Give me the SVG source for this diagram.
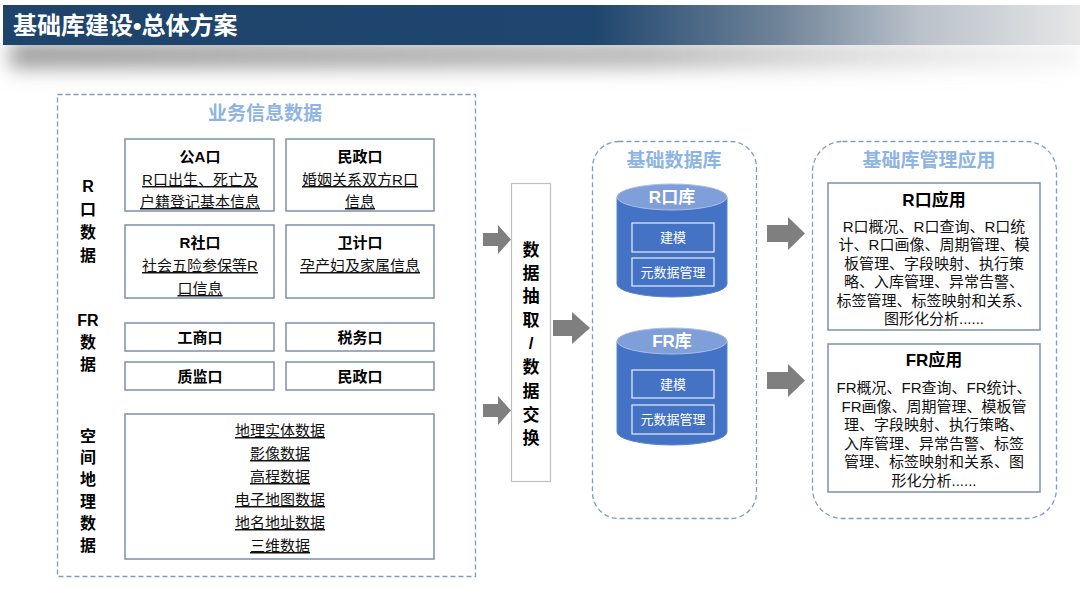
<svg xmlns="http://www.w3.org/2000/svg" width="1080" height="595" viewBox="0 0 1080 595">
<defs>
<linearGradient id="barGrad" x1="0" y1="0" x2="1080" y2="0" gradientUnits="userSpaceOnUse">
<stop offset="0" stop-color="#1E446C"/>
<stop offset="0.55" stop-color="#1F466E"/>
<stop offset="0.72" stop-color="#6F8398"/>
<stop offset="0.85" stop-color="#B9C1CA"/>
<stop offset="1" stop-color="#E6E6E6"/>
</linearGradient>
<linearGradient id="shGrad" x1="0" y1="0" x2="1080" y2="0" gradientUnits="userSpaceOnUse">
<stop offset="0" stop-color="#999"/>
<stop offset="0.6" stop-color="#b5b5b5"/>
<stop offset="1" stop-color="#dedede" stop-opacity="0.3"/>
</linearGradient>
<filter id="blur" x="-10%" y="-100%" width="120%" height="300%"><feGaussianBlur stdDeviation="10"/></filter>
<style>
text{font-family:"Liberation Sans","Noto Sans CJK SC",sans-serif;text-anchor:middle}
.dash{fill:none;stroke:#7F9CC0;stroke-width:1.3;stroke-dasharray:5 3}
.box{fill:#fff;stroke:#8497B0;stroke-width:1.6}
.hd{font-size:15px;font-weight:bold;fill:#000}
.ul{font-size:15px;fill:#111;text-decoration:underline}
.side{font-size:16px;font-weight:bold;fill:#000}
.sec{font-size:19px;font-weight:bold;fill:#8DB4E2}
.arr{fill:#7F7F7F}
.cyl{fill:#4472C4;stroke:#5E86CC;stroke-width:1}
.cyltop{fill:#809FD8;stroke:#A9BFE6;stroke-width:1}
.cylt{font-size:17px;font-weight:bold;fill:#fff}
.ib{fill:none;stroke:#E8EEF8;stroke-width:1.2}
.it{font-size:13px;fill:#fff}
.app{font-size:15px;fill:#111}
.apph{font-size:17px;font-weight:bold;fill:#000}
.vt{font-size:17px;font-weight:bold;fill:#000}
</style>
</defs>
<rect width="1080" height="595" fill="#fff"/>
<!-- title bar -->
<g id="title">
<rect x="10" y="42" width="1070" height="26" fill="url(#shGrad)" filter="url(#blur)"/>
<rect x="3" y="5" width="1077" height="40" fill="url(#barGrad)"/>
<text x="13" y="34" style="font-size:24px;font-weight:bold;fill:#fff;text-anchor:start">基础库建设•总体方案</text>
</g>
<!-- left section -->
<g id="business">
<rect class="dash" x="57.5" y="94.5" width="418" height="482"/>
<text class="sec" x="265" y="120">业务信息数据</text>
<g class="side">
<text x="88" y="192">R</text><text x="88" y="215">口</text><text x="88" y="238">数</text><text x="88" y="261">据</text>
<text x="88" y="326">FR</text><text x="88" y="348">数</text><text x="88" y="370">据</text>
<text x="88" y="442">空</text><text x="88" y="463">间</text><text x="88" y="485">地</text><text x="88" y="507">理</text><text x="88" y="529">数</text><text x="88" y="551">据</text>
</g>
</g>
<g id="gongan"><rect class="box" x="125" y="139" width="149" height="72"/><text class="hd" x="200" y="162">公A口</text><text class="ul" x="200" y="185">R口出生、死亡及</text><text class="ul" x="200" y="207">户籍登记基本信息</text></g>
<g id="minzheng1"><rect class="box" x="286" y="139" width="148" height="72"/><text class="hd" x="360" y="162">民政口</text><text class="ul" x="360" y="185">婚姻关系双方R口</text><text class="ul" x="360" y="207">信息</text></g>
<g id="rshe"><rect class="box" x="125" y="225" width="149" height="73"/><text class="hd" x="200" y="248">R社口</text><text class="ul" x="200" y="271">社会五险参保等R</text><text class="ul" x="200" y="294">口信息</text></g>
<g id="weiji"><rect class="box" x="286" y="225" width="148" height="73"/><text class="hd" x="360" y="248">卫计口</text><text class="ul" x="360" y="271">孕产妇及家属信息</text></g>
<g id="gongshang"><rect class="box" x="125" y="323" width="149" height="28"/><text class="hd" x="200" y="343">工商口</text></g>
<g id="shuiwu"><rect class="box" x="286" y="323" width="148" height="28"/><text class="hd" x="360" y="343">税务口</text></g>
<g id="zhijian"><rect class="box" x="125" y="362" width="149" height="28"/><text class="hd" x="200" y="382">质监口</text></g>
<g id="minzheng2"><rect class="box" x="286" y="362" width="148" height="28"/><text class="hd" x="360" y="382">民政口</text></g>
<g id="spatial"><rect class="box" x="125" y="414" width="309" height="145"/>
<text class="ul" x="280" y="436">地理实体数据</text><text class="ul" x="280" y="459">影像数据</text><text class="ul" x="280" y="482">高程数据</text><text class="ul" x="280" y="505">电子地图数据</text><text class="ul" x="280" y="528">地名地址数据</text><text class="ul" x="280" y="551">三维数据</text>
</g>
<!-- exchange -->
<g id="exchange"><rect x="511.5" y="183.5" width="39" height="298" fill="#fff" stroke="#BFBFBF" stroke-width="1.2"/>
<g class="vt"><text x="531" y="256">数</text><text x="531" y="279">据</text><text x="531" y="302">抽</text><text x="531" y="326">取</text><text x="531" y="349">/</text><text x="531" y="373">数</text><text x="531" y="397">据</text><text x="531" y="421">交</text><text x="531" y="444">换</text></g>
</g>
<!-- base db -->
<g id="basedb"><rect class="dash" x="592.5" y="141.5" width="164" height="377" rx="26"/><text class="sec" x="674" y="167">基础数据库</text></g>
<g id="rdb">
<path class="cyl" d="M617,197 v87 a55,13 0 0 0 110,0 v-87 z"/>
<ellipse class="cyltop" cx="672" cy="197" rx="55" ry="13"/>
<text class="cylt" x="672" y="203">R口库</text>
<rect class="ib" x="632" y="223" width="82" height="29"/><text class="it" x="673" y="242">建模</text>
<rect class="ib" x="632" y="258" width="82" height="28"/><text class="it" x="673" y="277">元数据管理</text>
</g>
<g id="frdb">
<path class="cyl" d="M617,341 v91 a55,13 0 0 0 110,0 v-91 z"/>
<ellipse class="cyltop" cx="672" cy="341" rx="55" ry="13"/>
<text class="cylt" x="672" y="347">FR库</text>
<rect class="ib" x="632" y="370" width="82" height="28"/><text class="it" x="673" y="389">建模</text>
<rect class="ib" x="632" y="405" width="82" height="29"/><text class="it" x="673" y="424">元数据管理</text>
</g>
<!-- apps -->
<g id="apps"><rect class="dash" x="812.5" y="141.5" width="244" height="377" rx="30"/><text class="sec" x="929" y="167">基础库管理应用</text></g>
<g id="rapp"><rect class="box" x="828" y="183" width="212" height="147"/>
<text class="apph" x="934" y="206">R口应用</text>
<text class="app" x="934" y="232">R口概况、R口查询、R口统</text>
<text class="app" x="934" y="250">计、R口画像、周期管理、模</text>
<text class="app" x="934" y="269">板管理、字段映射、执行策</text>
<text class="app" x="934" y="287">略、入库管理、异常告警、</text>
<text class="app" x="934" y="306">标签管理、标签映射和关系、</text>
<text class="app" x="934" y="324">图形化分析......</text>
</g>
<g id="frapp"><rect class="box" x="828" y="344" width="212" height="148"/>
<text class="apph" x="934" y="366">FR应用</text>
<text class="app" x="934" y="393">FR概况、FR查询、FR统计、</text>
<text class="app" x="934" y="412">FR画像、周期管理、模板管</text>
<text class="app" x="934" y="430">理、字段映射、执行策略、</text>
<text class="app" x="934" y="449">入库管理、异常告警、标签</text>
<text class="app" x="934" y="467">管理、标签映射和关系、图</text>
<text class="app" x="934" y="486">形化分析......</text>
</g>
<!-- connectors -->
<g id="connectors">
<polygon class="arr" points="483,233 498,233 498,225 511,239.5 498,254 498,246 483,246"/>
<polygon class="arr" points="483,404 498,404 498,396 511,410.5 498,425 498,417 483,417"/>
<polygon class="arr" points="553,320 572,320 572,312 590,328 572,344 572,336 553,336"/>
<polygon class="arr" points="767,225 788,225 788,217 805,233.5 788,250 788,242 767,242"/>
<polygon class="arr" points="767,372 788,372 788,364 805,380.5 788,397 788,389 767,389"/>
</g>
</svg>
